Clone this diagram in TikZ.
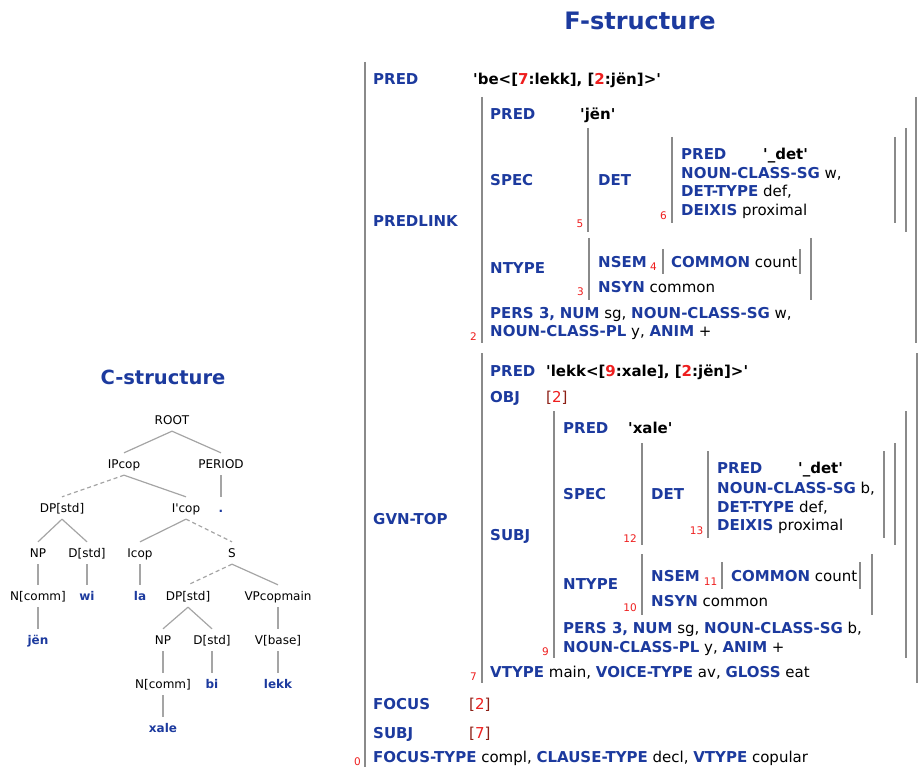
\documentclass[tikz,border=0pt]{standalone}
\usepackage{fontspec}
\setmainfont{DejaVu Sans}
\newfontfamily\dvs{DejaVu Sans}

\definecolor{fblue}{RGB}{28,58,158}
\definecolor{fred}{RGB}{238,30,30}
\definecolor{fbrack}{RGB}{140,30,20}
\definecolor{barcol}{RGB}{138,138,138}
\definecolor{edgecol}{RGB}{165,165,165}

\newcommand{\fsfont}{\dvs\fontsize{15}{18}\selectfont}
\newcommand{\tnfont}{\dvs\fontsize{12}{14}\selectfont}
\newcommand{\lblfont}{\dvs\fontsize{10.5}{12}\selectfont}
% attribute names, reference numbers, straight quote, [n] references
\newcommand{\attr}[1]{\textcolor{fblue}{\bfseries #1}}
\newcommand{\refnum}[1]{\textcolor{fred}{#1}}
\newcommand{\squote}{\XeTeXglyph\XeTeXcharglyph"0027\relax}
\newcommand{\idx}[1]{\textcolor{fbrack}{[}\textcolor{fred}{#1}\textcolor{fbrack}{]}}

\tikzset{
  fs/.style={anchor=base west, inner sep=0pt, font=\fsfont},
  lbl/.style={anchor=base east, inner sep=0pt, font=\lblfont, text=fred},
  bar/.style={draw=barcol, line width=2.5pt},
  tn/.style={font=\tnfont, text height=8.75pt, text depth=0pt, inner xsep=1pt, inner ysep=6.6pt},
  tleaf/.style={tn, text=fblue, font=\tnfont\bfseries},
  tedge/.style={draw=edgecol, line width=1.2pt},
  tdash/.style={tedge, dash pattern=on 4pt off 3pt},
  title/.style={text=fblue, inner sep=0pt}
}

\begin{document}
\begin{tikzpicture}[x=1pt, y=-1pt]
\useasboundingbox (0,0) rectangle (918,767);

% ---------------- titles ----------------
\node[title, font=\dvs\fontsize{24}{28}\selectfont\bfseries] (ftitle) at (640,20.5) {F-structure};
\node[title, font=\dvs\fontsize{19.5}{23}\selectfont\bfseries] (ctitle) at (163,377) {C-structure};

% ---------------- c-structure tree ----------------
\node[tn] (root)   at (172,420) {ROOT};
\node[tn] (ipcop)  at (124,464) {IPcop};
\node[tn] (period) at (221,464) {PERIOD};
\node[tn] (dpa)    at (62,508)  {DP[std]};
\node[tn] (ibar)   at (186,508) {I\squote cop};
\node[tleaf] (dot) at (221,508) {.};
\node[tn] (npa)    at (38,553)  {NP};
\node[tn] (dsta)   at (87,553)  {D[std]};
\node[tn] (icop)   at (140,553) {Icop};
\node[tn] (s)      at (232,553) {S};
\node[tn] (ncomma) at (38,596)  {N[comm]};
\node[tleaf] (wi)  at (87,596)  {wi};
\node[tleaf] (la)  at (140,596) {la};
\node[tn] (dpb)    at (188,596) {DP[std]};
\node[tn] (vp)     at (278,596) {VPcopmain};
\node[tleaf] (jen) at (38,640)  {jën};
\node[tn] (npb)    at (163,640) {NP};
\node[tn] (dstb)   at (212,640) {D[std]};
\node[tn] (vbase)  at (278,640) {V[base]};
\node[tn] (ncommb) at (163,684) {N[comm]};
\node[tleaf] (bi)  at (212,684) {bi};
\node[tleaf] (lekk) at (278,684) {lekk};
\node[tleaf] (xale) at (163,728) {xale};

\draw[tedge] (root.south) -- (ipcop.north);
\draw[tedge] (root.south) -- (period.north);
\draw[tdash] (ipcop.south) -- (dpa.north);
\draw[tedge] (ipcop.south) -- (ibar.north);
\draw[tedge] (period.south) -- (dot.north);
\draw[tedge] (dpa.south) -- (npa.north);
\draw[tedge] (dpa.south) -- (dsta.north);
\draw[tedge] (ibar.south) -- (icop.north);
\draw[tdash] (ibar.south) -- (s.north);
\draw[tedge] (npa.south) -- (ncomma.north);
\draw[tedge] (dsta.south) -- (wi.north);
\draw[tedge] (icop.south) -- (la.north);
\draw[tdash] (s.south) -- (dpb.north);
\draw[tedge] (s.south) -- (vp.north);
\draw[tedge] (ncomma.south) -- (jen.north);
\draw[tedge] (dpb.south) -- (npb.north);
\draw[tedge] (dpb.south) -- (dstb.north);
\draw[tedge] (vp.south) -- (vbase.north);
\draw[tedge] (npb.south) -- (ncommb.north);
\draw[tedge] (dstb.south) -- (bi.north);
\draw[tedge] (vbase.south) -- (lekk.north);
\draw[tedge] (ncommb.south) -- (xale.north);

% ---------------- f-structure brackets ----------------
\draw[bar] (365,62) -- (365,767);                          % 0
\draw[bar] (482,97) -- (482,343);  \draw[bar] (916,97) -- (916,343);   % 2
\draw[bar] (588,128) -- (588,232); \draw[bar] (906,128) -- (906,232);  % 5
\draw[bar] (672,137) -- (672,223); \draw[bar] (895,137) -- (895,223);  % 6
\draw[bar] (589,238) -- (589,300); \draw[bar] (811,238) -- (811,300);  % 3
\draw[bar] (663,249) -- (663,274); \draw[bar] (800,249) -- (800,274);  % 4
\draw[bar] (482,353) -- (482,683); \draw[bar] (917,353) -- (917,683);  % 7
\draw[bar] (554,411) -- (554,658); \draw[bar] (906,411) -- (906,658);  % 9
\draw[bar] (642,443) -- (642,545); \draw[bar] (895,443) -- (895,545);  % 12
\draw[bar] (708,451) -- (708,538); \draw[bar] (884,451) -- (884,538);  % 13
\draw[bar] (642,554) -- (642,615); \draw[bar] (872,554) -- (872,615);  % 10
\draw[bar] (722,562) -- (722,589); \draw[bar] (860,562) -- (860,589);  % 11

% structure indices
\node[lbl] (n0)  at (361,765)   {0};
\node[lbl] (n2)  at (477,340.5) {2};
\node[lbl] (n5)  at (583.5,228) {5};
\node[lbl] (n6)  at (667,220)   {6};
\node[lbl] (n3)  at (584,296)   {3};
\node[lbl] (n4)  at (657,270.5) {4};
\node[lbl] (n7)  at (477,680)   {7};
\node[lbl] (n9)  at (549,655)   {9};
\node[lbl] (n12) at (637,542)   {12};
\node[lbl] (n13) at (703.5,534) {13};
\node[lbl] (n10) at (637,611)   {10};
\node[lbl] (n11) at (717.5,585) {11};

% ---------------- f-structure contents ----------------
% outer structure
\node[fs] (f0pred)  at (373,84.5) {\attr{PRED}};
\node[fs] (f0predv) at (473,84.5) {\bfseries\squote be<[\refnum{7}:lekk], [\refnum{2}:jën]>\squote};
\node[fs] (f0plink) at (373,226.5) {\attr{PREDLINK}};
\node[fs] (f0gvn)   at (373,524.5) {\attr{GVN-TOP}};
\node[fs] (f0focus) at (373,709.5) {\attr{FOCUS}};
\node[fs] (f0focv)  at (469,709.5) {\idx{2}};
\node[fs] (f0subj)  at (373,738)   {\attr{SUBJ}};
\node[fs] (f0subjv) at (469,738)   {\idx{7}};
\node[fs] (f0rest)  at (373,762.5) {\attr{FOCUS-TYPE} compl, \attr{CLAUSE-TYPE} decl, \attr{VTYPE} copular};

% PREDLINK
\node[fs] (f2pred)  at (490,119.5) {\attr{PRED}};
\node[fs] (f2predv) at (580,119.5) {\bfseries\squote jën\squote};
\node[fs] (f2spec)  at (490,185.5) {\attr{SPEC}};
\node[fs] (f5det)   at (598,185.5) {\attr{DET}};
\node[fs] (f6pred)  at (681,159.5) {\attr{PRED}};
\node[fs] (f6predv) at (763,159.5) {\bfseries\squote\_det\squote};
\node[fs] (f6ncl)   at (681,178.5) {\attr{NOUN-CLASS-SG} w,};
\node[fs] (f6dtype) at (681,197)   {\attr{DET-TYPE} def,};
\node[fs] (f6deix)  at (681,215.5) {\attr{DEIXIS} proximal};
\node[fs] (f2ntype) at (490,273.5) {\attr{NTYPE}};
\node[fs] (f3nsem)  at (598,267.5) {\attr{NSEM}};
\node[fs] (f4comm)  at (671,267.5) {\attr{COMMON} count};
\node[fs] (f3nsyn)  at (598,292.5) {\attr{NSYN} common};
\node[fs] (f2agr1)  at (490,318.5) {\attr{PERS 3,} \attr{NUM} sg, \attr{NOUN-CLASS-SG} w,};
\node[fs] (f2agr2)  at (490,336.5) {\attr{NOUN-CLASS-PL} y, \attr{ANIM} +};

% GVN-TOP
\node[fs] (f7pred)  at (490,376.5) {\attr{PRED}};
\node[fs] (f7predv) at (546,376.5) {\bfseries\squote lekk<[\refnum{9}:xale], [\refnum{2}:jën]>\squote};
\node[fs] (f7obj)   at (490,402.5) {\attr{OBJ}};
\node[fs] (f7objv)  at (546,402.5) {\idx{2}};
\node[fs] (f9pred)  at (563,433.5) {\attr{PRED}};
\node[fs] (f9predv) at (628,433.5) {\bfseries\squote xale\squote};
\node[fs] (f9spec)  at (563,499.5) {\attr{SPEC}};
\node[fs] (f12det)  at (651,499.5) {\attr{DET}};
\node[fs] (f13pred) at (717,473.5) {\attr{PRED}};
\node[fs] (f13prv)  at (798,473.5) {\bfseries\squote\_det\squote};
\node[fs] (f13ncl)  at (717,493.5) {\attr{NOUN-CLASS-SG} b,};
\node[fs] (f13dt)   at (717,512)   {\attr{DET-TYPE} def,};
\node[fs] (f13deix) at (717,530.5) {\attr{DEIXIS} proximal};
\node[fs] (f7subj)  at (490,540.5) {\attr{SUBJ}};
\node[fs] (f9ntype) at (563,589)   {\attr{NTYPE}};
\node[fs] (f10nsem) at (651,581)   {\attr{NSEM}};
\node[fs] (f11comm) at (731,581)   {\attr{COMMON} count};
\node[fs] (f10nsyn) at (651,606.5) {\attr{NSYN} common};
\node[fs] (f9agr1)  at (563,633.5) {\attr{PERS 3,} \attr{NUM} sg, \attr{NOUN-CLASS-SG} b,};
\node[fs] (f9agr2)  at (563,652)   {\attr{NOUN-CLASS-PL} y, \attr{ANIM} +};
\node[fs] (f7vtype) at (490,677.5) {\attr{VTYPE} main, \attr{VOICE-TYPE} av, \attr{GLOSS} eat};
\end{tikzpicture}
\end{document}
